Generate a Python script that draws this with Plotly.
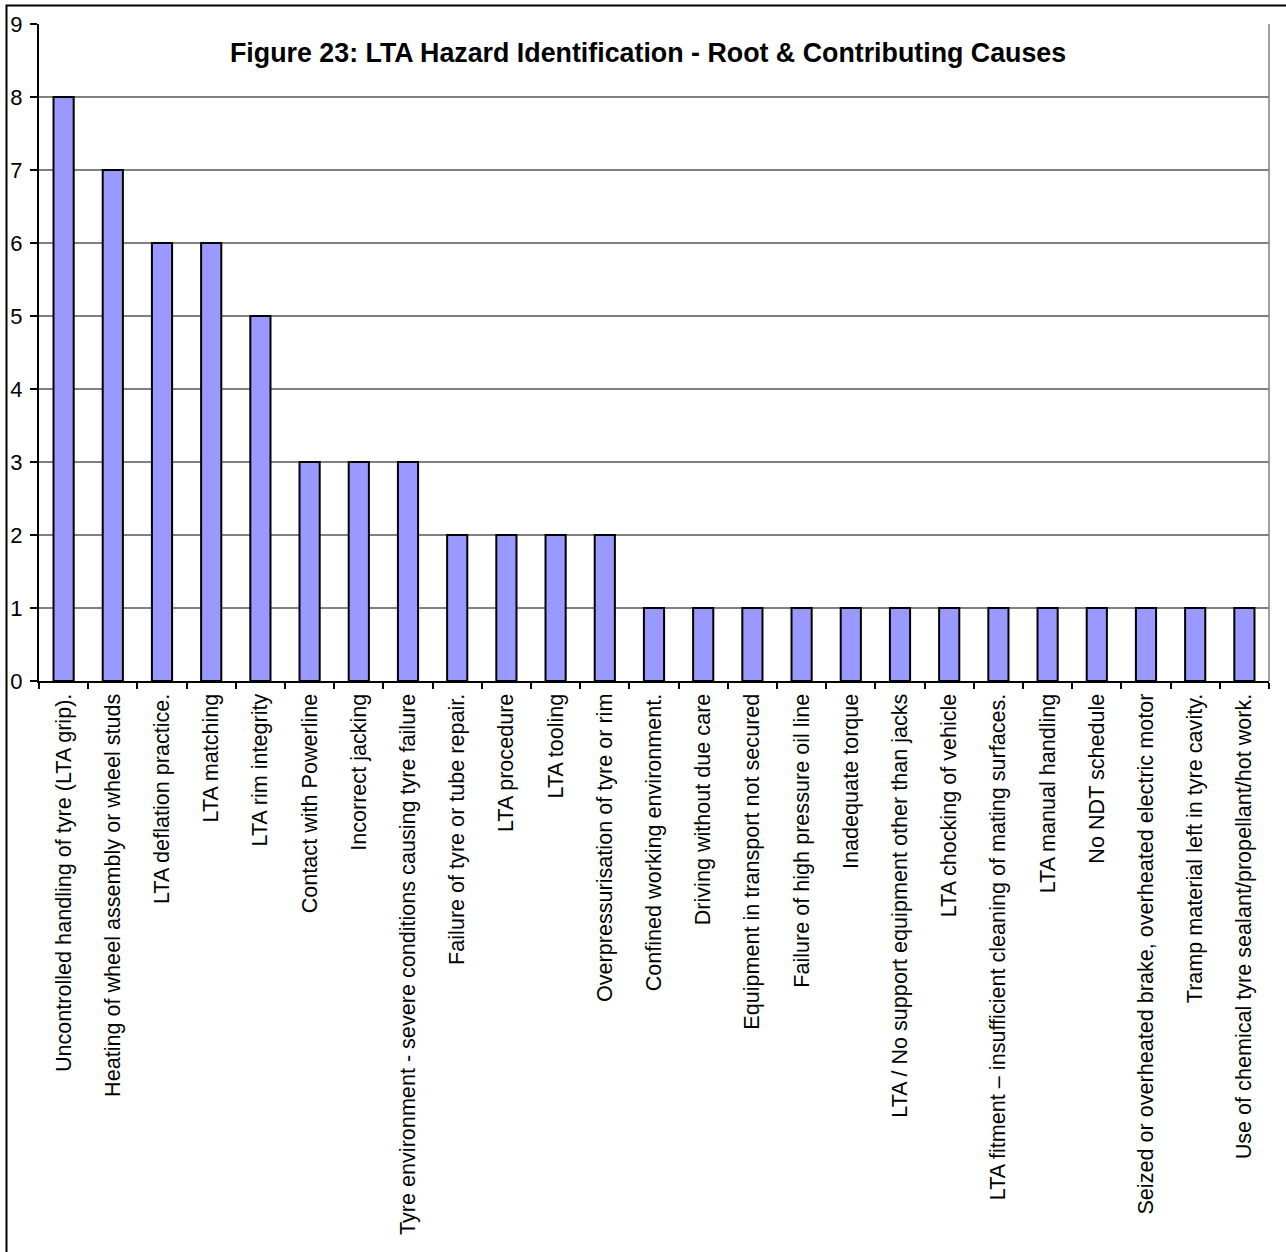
import plotly.graph_objects as go

categories = [
    "Uncontrolled handling of tyre (LTA grip).",
    "Heating of wheel assembly or wheel studs",
    "LTA deflation practice.",
    "LTA matching",
    "LTA rim integrity",
    "Contact with Powerline",
    "Incorrect jacking",
    "Tyre environment - severe conditions causing tyre failure",
    "Failure of tyre or tube repair.",
    "LTA procedure",
    "LTA tooling",
    "Overpressurisation of tyre or rim",
    "Confined working environment.",
    "Driving without due care",
    "Equipment in transport not secured",
    "Failure of high pressure oil line",
    "Inadequate torque",
    "LTA / No support equipment other than jacks",
    "LTA chocking of vehicle",
    "LTA fitment \u2013 insufficient cleaning of mating surfaces.",
    "LTA manual handling",
    "No NDT schedule",
    "Seized or overheated brake, overheated electric motor",
    "Tramp material left in tyre cavity.",
    "Use of chemical tyre sealant/propellant/hot work.",
]
counts = [8, 7, 6, 6, 5, 3, 3, 3, 2, 2, 2, 2, 1, 1, 1, 1, 1, 1, 1, 1, 1, 1, 1, 1, 1]
y_ticks = [0, 1, 2, 3, 4, 5, 6, 7, 8, 9]
title_text = "Figure 23: LTA Hazard Identification - Root & Contributing Causes"

W, H = 1286, 1252
L, R, T, B = 39, 1269, 24, 681
FONT = "Liberation Sans, Arial, sans-serif"


def px_x(p):
    return (p - L) / (R - L)


def px_y(p):
    return (B - p) / (B - T)


fig = go.Figure(
    go.Bar(
        x=categories,
        y=counts,
        marker=dict(color="#9999FF", line=dict(color="#000000", width=2)),
        hoverinfo="x+y",
    )
)

fig.update_layout(
    width=W,
    height=H,
    margin=dict(l=L, r=W - R, t=T, b=H - B, pad=0),
    paper_bgcolor="white",
    plot_bgcolor="white",
    bargap=0.59,
    showlegend=False,
    font=dict(family=FONT, size=21.6, color="black"),
    xaxis=dict(
        type="category",
        tickangle=-90,
        ticks="outside",
        tickson="boundaries",
        ticklen=6,
        tickwidth=1.5,
        tickcolor="black",
        showline=True,
        linecolor="black",
        linewidth=2,
        showgrid=False,
        tickfont=dict(family=FONT, size=21.6, color="black"),
        ticklabelstandoff=2,
        automargin=False,
    ),
    yaxis=dict(
        range=[0, 9],
        tickvals=y_ticks,
        ticks="outside",
        ticklen=7,
        tickwidth=1.5,
        tickcolor="black",
        showline=True,
        linecolor="black",
        linewidth=2,
        showgrid=True,
        gridcolor="#808080",
        gridwidth=1.5,
        zeroline=False,
        tickfont=dict(family=FONT, size=22, color="black"),
        ticklabelstandoff=3,
        automargin=False,
    ),
    annotations=[
        dict(
            text="<b>" + title_text.replace("&", "&amp;") + "</b>",
            x=px_x(647.5),
            y=px_y(53),
            xref="paper",
            yref="paper",
            xanchor="center",
            yanchor="middle",
            showarrow=False,
            font=dict(family=FONT, size=26.8, color="black"),
        )
    ],
    shapes=[
        dict(
            type="line", xref="paper", yref="paper",
            x0=1, x1=1, y0=0, y1=1,
            line=dict(color="#808080", width=1.5),
        ),
        dict(
            type="rect", xref="paper", yref="paper",
            x0=px_x(6.5), x1=px_x(1300), y0=px_y(5.5), y1=px_y(1270),
            line=dict(color="black", width=2),
            fillcolor="rgba(0,0,0,0)",
            layer="below",
        ),
    ],
)

fig.write_html("out.html")
